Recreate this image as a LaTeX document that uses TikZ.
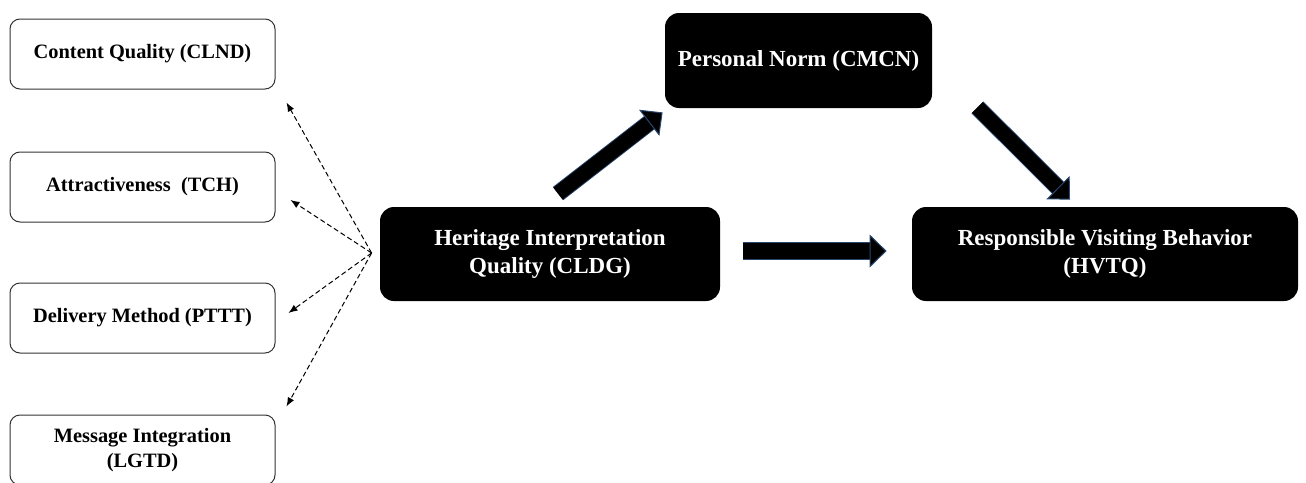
\documentclass[tikz,border=0pt]{standalone}
\usepackage{fontspec}
\setmainfont{Liberation Serif}
\usepackage{tikz}
\usetikzlibrary{arrows.meta, positioning, calc}

\definecolor{arrowedge}{RGB}{40,70,110}

\tikzset{
  dimbox/.style={draw=black!80, line width=0.5pt, rounded corners=5pt, fill=white,
    minimum width=132.5pt, minimum height=35pt, align=center,
    font=\fontsize{10.2}{12.5}\selectfont\bfseries},
  keybox/.style={fill=black, rounded corners=7pt, text=white, align=center,
    minimum height=47pt, font=\fontsize{11.5}{14}\selectfont\bfseries},
  dimlink/.style={dashed, dash pattern=on 2.5pt off 1.5pt, line width=0.5pt,
    -{Latex[length=4.5pt,width=3.5pt]}},
  fatarrow/.style={draw=black, line width=#1,
    -{Triangle[length=8.5pt,width=16.5pt,fill=black,color=arrowedge,line width=0.5pt]},
    preaction={draw=arrowedge, line width=#1+0.9pt, -, shorten >=8pt}}
}

\begin{document}
\begin{tikzpicture}[x=0.5pt, y=-0.5pt]
\useasboundingbox (0,0) rectangle (1306,482);

% Dimensions of interpretation quality
\node[dimbox] (clnd) at (142.5,54) {Content Quality (CLND)};
\node[dimbox] (tch) at (142.5,187) {Attractiveness\ \ (TCH)};
\node[dimbox] (pttt) at (142.5,318) {Delivery Method (PTTT)};
\node[dimbox] (lgtd) at (142.5,450) {Message Integration\\(LGTD)};

% Main constructs
\node[keybox, minimum width=170pt] (hiq) at (550,254) {Heritage Interpretation\\Quality (CLDG)};
\node[keybox, minimum width=133.5pt, minimum height=47.5pt] (pn) at (798.5,60.5) {Personal Norm (CMCN)};
\node[keybox, minimum width=193pt] (rvb) at (1105,254) {Responsible Visiting Behavior\\(HVTQ)};

% Dashed links to the dimensions
\coordinate (hub) at ([shift={(-8,-1)}]hiq.west);
\draw[dimlink] (hub) -- ([shift={(11,13)}]clnd.south east);
\draw[dimlink] (hub) -- ([shift={(15,13)}]tch.east);
\draw[dimlink] (hub) -- ([shift={(13,-5)}]pttt.east);
\draw[dimlink] (hub) -- ([shift={(11,-8)}]lgtd.north east);

% Structural paths
\draw[fatarrow=7.5pt] ([shift={(8,-13)}]hiq.north) -- ([shift={(-2,4)}]pn.south west);
\draw[fatarrow=7.5pt] ([shift={(45,-1)}]pn.south east) -- ([shift={(-35,-7)}]rvb.north);
\draw[fatarrow=8pt] ([shift={(23,-3)}]hiq.east) -- ([shift={(-25,-3)}]rvb.west);
\end{tikzpicture}
\end{document}
